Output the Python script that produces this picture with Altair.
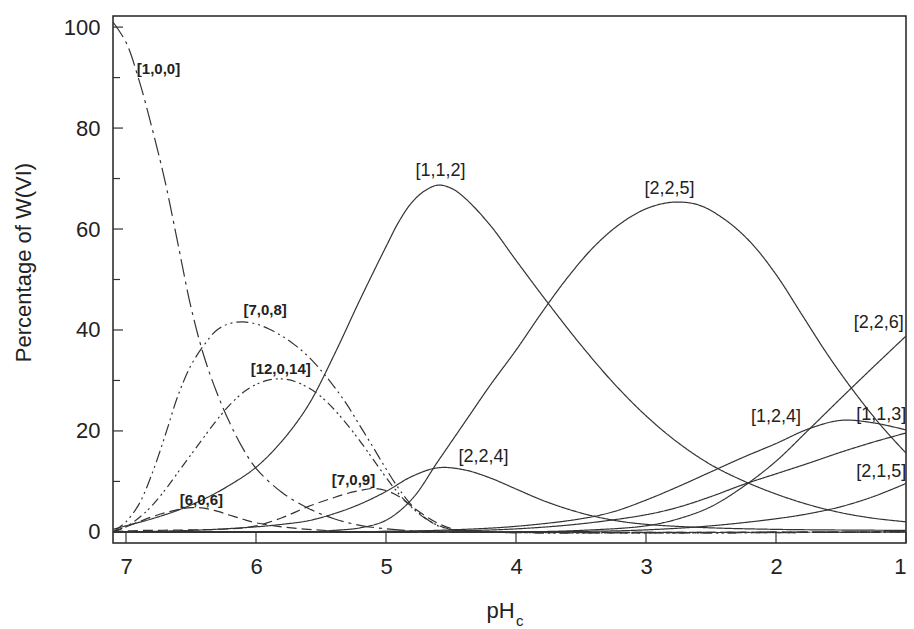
import altair as alt
import pandas as pd

# ---- data (x = pH_c, y = percentage of W(VI)) ----
ph_100 = [7.1, 7.0, 6.9, 6.8, 6.7, 6.6, 6.5, 6.4, 6.3, 6.2, 6.1, 6.0, 5.8, 5.6, 5.4, 5.2, 5.0, 4.8, 4.6, 1.0]
pct_100 = [101, 97, 89.5, 80, 69.5, 57, 44.5, 34.8, 27.5, 21.5, 16.5, 12.6, 7.8, 4.7, 2.6, 1.3, 0.6, 0.2, 0, 0]

ph_708 = [7.1, 7.0, 6.9, 6.8, 6.7, 6.6, 6.5, 6.4, 6.3, 6.2, 6.1, 6.0, 5.9, 5.8, 5.7, 5.6, 5.5, 5.4, 5.3, 5.2, 5.1, 5.0, 4.9, 4.8, 4.7, 4.6, 4.5, 4.4, 1.0]
pct_708 = [0, 2, 5.5, 11.5, 19, 27, 33, 37, 40, 41.3, 41.6, 41.2, 40.2, 38.8, 37, 34.8, 32, 28.8, 25.2, 21, 16.8, 12.5, 8.5, 5.2, 2.8, 1.2, 0.5, 0.1, 0]

ph_12014 = [7.1, 7.0, 6.9, 6.8, 6.7, 6.6, 6.5, 6.4, 6.3, 6.2, 6.1, 6.0, 5.9, 5.8, 5.7, 5.6, 5.5, 5.4, 5.3, 5.2, 5.1, 5.0, 4.9, 4.8, 4.7, 4.6, 4.5, 4.4, 1.0]
pct_12014 = [0, 1, 2.8, 5.2, 8.3, 11.8, 15.3, 18.8, 22.2, 25.2, 27.6, 29.2, 30.1, 30.3, 29.8, 28.6, 26.8, 24.3, 21.3, 18, 14.4, 10.8, 7.5, 4.8, 2.7, 1.3, 0.5, 0.1, 0]

ph_606 = [7.1, 7.0, 6.9, 6.8, 6.7, 6.6, 6.5, 6.4, 6.3, 6.2, 6.1, 6.0, 5.8, 5.6, 5.4, 5.2, 1.0]
pct_606 = [0, 1, 2, 3, 3.8, 4.4, 4.8, 4.7, 4.1, 3.3, 2.5, 1.8, 1.0, 0.5, 0.2, 0, 0]

ph_709 = [7.1, 7.0, 6.5, 6.2, 6.0, 5.8, 5.6, 5.4, 5.3, 5.2, 5.1, 5.0, 4.9, 4.8, 4.7, 4.6, 4.5, 4.4, 4.3, 1.0]
pct_709 = [0, 0.2, 0.4, 0.6, 1.2, 2.8, 5, 6.8, 7.6, 8.2, 8.6, 8.2, 7, 5, 3.2, 1.7, 0.7, 0.2, 0, 0]

ph_112 = [7.1, 7.0, 6.8, 6.6, 6.4, 6.2, 6.0, 5.8, 5.6, 5.4, 5.2, 5.0, 4.9, 4.8, 4.7, 4.6, 4.5, 4.4, 4.2, 4.0, 3.75, 3.5, 3.25, 3.0, 2.75, 2.5, 2.25, 2.0, 1.75, 1.5, 1.25, 1.0]
pct_112 = [0.5, 1.2, 2.6, 4.3, 6.5, 9.3, 12.8, 18, 25, 35, 46, 56.5, 61.5, 65.3, 67.6, 68.7, 68.1, 66.3, 60.8, 53.8, 45.2, 37, 29.5, 23, 17.6, 13.3, 10.1, 7.5, 5.4, 3.8, 2.7, 2]

ph_225 = [7.1, 5.6, 5.4, 5.2, 5.0, 4.8, 4.6, 4.4, 4.2, 4.0, 3.8, 3.6, 3.4, 3.2, 3.0, 2.8, 2.6, 2.4, 2.2, 2.0, 1.8, 1.6, 1.4, 1.2, 1.0]
pct_225 = [0, 0, 0.3, 0.8, 2.3, 6.5, 14, 21.5, 29, 36, 43.5, 50.5, 56.5, 61, 64, 65.3, 64.8, 62, 57.5, 51, 43, 35, 27.8, 21.3, 15.6]

ph_224 = [7.1, 6.5, 6.0, 5.8, 5.6, 5.4, 5.2, 5.0, 4.8, 4.6, 4.4, 4.2, 4.0, 3.8, 3.6, 3.4, 3.2, 3.0, 2.6, 2.0, 1.0]
pct_224 = [0, 0.3, 1, 1.5, 2.2, 3.6, 5.5, 8, 11, 12.7, 12.3, 10.7, 8.5, 6.3, 4.5, 3.1, 2.1, 1.5, 0.9, 0.5, 0.3]

ph_124 = [7.1, 5.0, 4.5, 4.0, 3.5, 3.25, 3.0, 2.75, 2.5, 2.25, 2.0, 1.75, 1.5, 1.25, 1.0]
pct_124 = [0, 0.1, 0.4, 1.1, 2.6, 4, 6.3, 9, 11.9, 14.8, 17.5, 20.4, 22.1, 21.6, 20.2]

ph_113 = [7.1, 4.5, 4.0, 3.5, 3.0, 2.75, 2.5, 2.25, 2.0, 1.75, 1.5, 1.25, 1.0]
pct_113 = [0, 0.2, 0.6, 1.6, 3.4, 4.9, 7, 9.4, 11.5, 13.6, 15.8, 17.8, 19.6]

ph_226 = [7.1, 4.0, 3.5, 3.0, 2.75, 2.5, 2.25, 2.0, 1.75, 1.5, 1.25, 1.0]
pct_226 = [0, 0, 0.3, 1.2, 2.6, 5.0, 9.0, 14.0, 20.2, 26.5, 32.7, 38.8]

ph_215 = [7.1, 3.5, 3.0, 2.5, 2.0, 1.75, 1.5, 1.25, 1.0]
pct_215 = [0, 0.1, 0.4, 1.2, 2.6, 3.6, 5, 7, 9.6]

# species name, arrays, line style
series = [
    ("[1,0,0]", ph_100, pct_100, "dashdot"),
    ("[7,0,8]", ph_708, pct_708, "dashdotdot"),
    ("[12,0,14]", ph_12014, pct_12014, "dashdotdot2"),
    ("[6,0,6]", ph_606, pct_606, "dash"),
    ("[7,0,9]", ph_709, pct_709, "dash"),
    ("[1,1,2]", ph_112, pct_112, "solid"),
    ("[2,2,5]", ph_225, pct_225, "solid"),
    ("[2,2,4]", ph_224, pct_224, "solid"),
    ("[1,2,4]", ph_124, pct_124, "solid"),
    ("[1,1,3]", ph_113, pct_113, "solid"),
    ("[2,2,6]", ph_226, pct_226, "solid"),
    ("[2,1,5]", ph_215, pct_215, "solid"),
]

# label annotations (species, pH, percentage, bold)
label_names = ["[1,0,0]", "[7,0,8]", "[12,0,14]", "[6,0,6]", "[7,0,9]",
               "[1,1,2]", "[2,2,5]", "[2,2,4]", "[2,2,6]", "[1,2,4]", "[1,1,3]", "[2,1,5]"]
label_ph = [6.75, 5.93, 5.81, 6.42, 5.25, 4.58, 2.82, 4.25, 1.21, 2.0, 1.19, 1.19]
label_pct = [91.7, 44.0, 32.3, 6.3, 10.3, 71.5, 68.0, 14.9, 41.4, 22.8, 23.2, 11.9]
label_bold = [True, True, True, True, True, False, False, False, False, False, False, False]

x_ticks = [7, 6, 5, 4, 3, 2, 1]
y_ticks = [0, 20, 40, 60, 80, 100]
y_minor = [10, 30, 50, 70, 90]

X_DOMAIN = [7.1, 1.0]
Y_DOMAIN = [-2.2, 102.2]

rows = []
for name, phs, pcts, style in series:
    for p, v in zip(phs, pcts):
        rows.append({"species": name, "pH": p, "pct": v, "style": style})
df = pd.DataFrame(rows)

lab = pd.DataFrame({"label": label_names, "pH": label_ph, "pct": label_pct, "bold": label_bold})

xs = alt.Scale(domain=X_DOMAIN, nice=False, zero=False)
ys = alt.Scale(domain=Y_DOMAIN, nice=False, zero=False)

style_domain = ["solid", "dash", "dashdot", "dashdotdot", "dashdotdot2"]
style_range = [[1, 0], [10, 5], [18, 5, 3, 5], [12, 4, 2, 4, 2, 4], [9, 4, 2, 3, 2, 4]]

lines = alt.Chart(df).mark_line(color="#333333", strokeWidth=1.2, interpolate="catmull-rom", clip=True).encode(
    x=alt.X("pH:Q", scale=xs,
            axis=alt.Axis(values=x_ticks, format="d", title="pH", grid=False, domain=False,
                          ticks=False, tickSize=0, labelPadding=13, labelFontSize=22,
                          labelFont="Liberation Sans", labelColor="#222",
                          titleFont="Liberation Sans", titleFontSize=22, titleFontWeight="normal",
                          titleColor="#222", titleX=387, titleY=74, titleBaseline="alphabetic")),
    y=alt.Y("pct:Q", scale=ys,
            axis=alt.Axis(values=y_ticks, title="Percentage of W(VI)", grid=False, domain=False,
                          ticks=False, tickSize=0, labelPadding=13, labelFontSize=22,
                          labelFont="Liberation Sans", labelColor="#222",
                          titleFont="Liberation Sans", titleFontSize=22, titleFontWeight="normal",
                          titleColor="#222", titleX=-78, titleY=246)),
    detail="species:N",
    strokeDash=alt.StrokeDash("style:N", scale=alt.Scale(domain=style_domain, range=style_range), legend=None),
)

ytick_df = pd.DataFrame({"pct": y_ticks + y_minor,
                         "x1": [X_DOMAIN[0]] * (len(y_ticks) + len(y_minor)),
                         "x2": [X_DOMAIN[0] - 0.077] * len(y_ticks) + [X_DOMAIN[0] - 0.054] * len(y_minor)})
yticks = alt.Chart(ytick_df).mark_rule(color="#333", strokeWidth=1.2).encode(
    x=alt.X("x1:Q", scale=xs), x2="x2:Q", y=alt.Y("pct:Q", scale=ys))

xtick_df = pd.DataFrame({"pH": x_ticks, "y1": [Y_DOMAIN[0]] * len(x_ticks), "y2": [0] * len(x_ticks)})
xticks = alt.Chart(xtick_df).mark_rule(color="#333", strokeWidth=1.2).encode(
    x=alt.X("pH:Q", scale=xs), y=alt.Y("y1:Q", scale=ys), y2="y2:Q")

bold_labels = alt.Chart(lab[lab["bold"]]).mark_text(
    font="Liberation Sans Narrow, Liberation Sans", fontWeight="bold", fontSize=15, color="#222",
    align="center", baseline="middle").encode(
    x=alt.X("pH:Q", scale=xs), y=alt.Y("pct:Q", scale=ys), text="label:N")

reg_labels = alt.Chart(lab[~lab["bold"]]).mark_text(
    font="Liberation Sans", fontSize=18, color="#222", align="center", baseline="middle").encode(
    x=alt.X("pH:Q", scale=xs), y=alt.Y("pct:Q", scale=ys), text="label:N")

sub_c = alt.Chart(pd.DataFrame({"t": ["c"]})).mark_text(
    font="Liberation Sans", fontSize=15, color="#222", align="left", baseline="alphabetic").encode(
    x=alt.value(403), y=alt.value(610), text="t:N")

chart = alt.layer(lines, yticks, xticks, bold_labels, reg_labels, sub_c).properties(
    width=793, height=527,
    autosize=alt.AutoSizeParams(type="none"),
    padding={"left": 113, "top": 16, "right": 8, "bottom": 86},
    background="white",
).configure_view(stroke="#222", strokeWidth=1.5)

chart.save("out.html", embed_options={"renderer": "svg", "actions": False})
